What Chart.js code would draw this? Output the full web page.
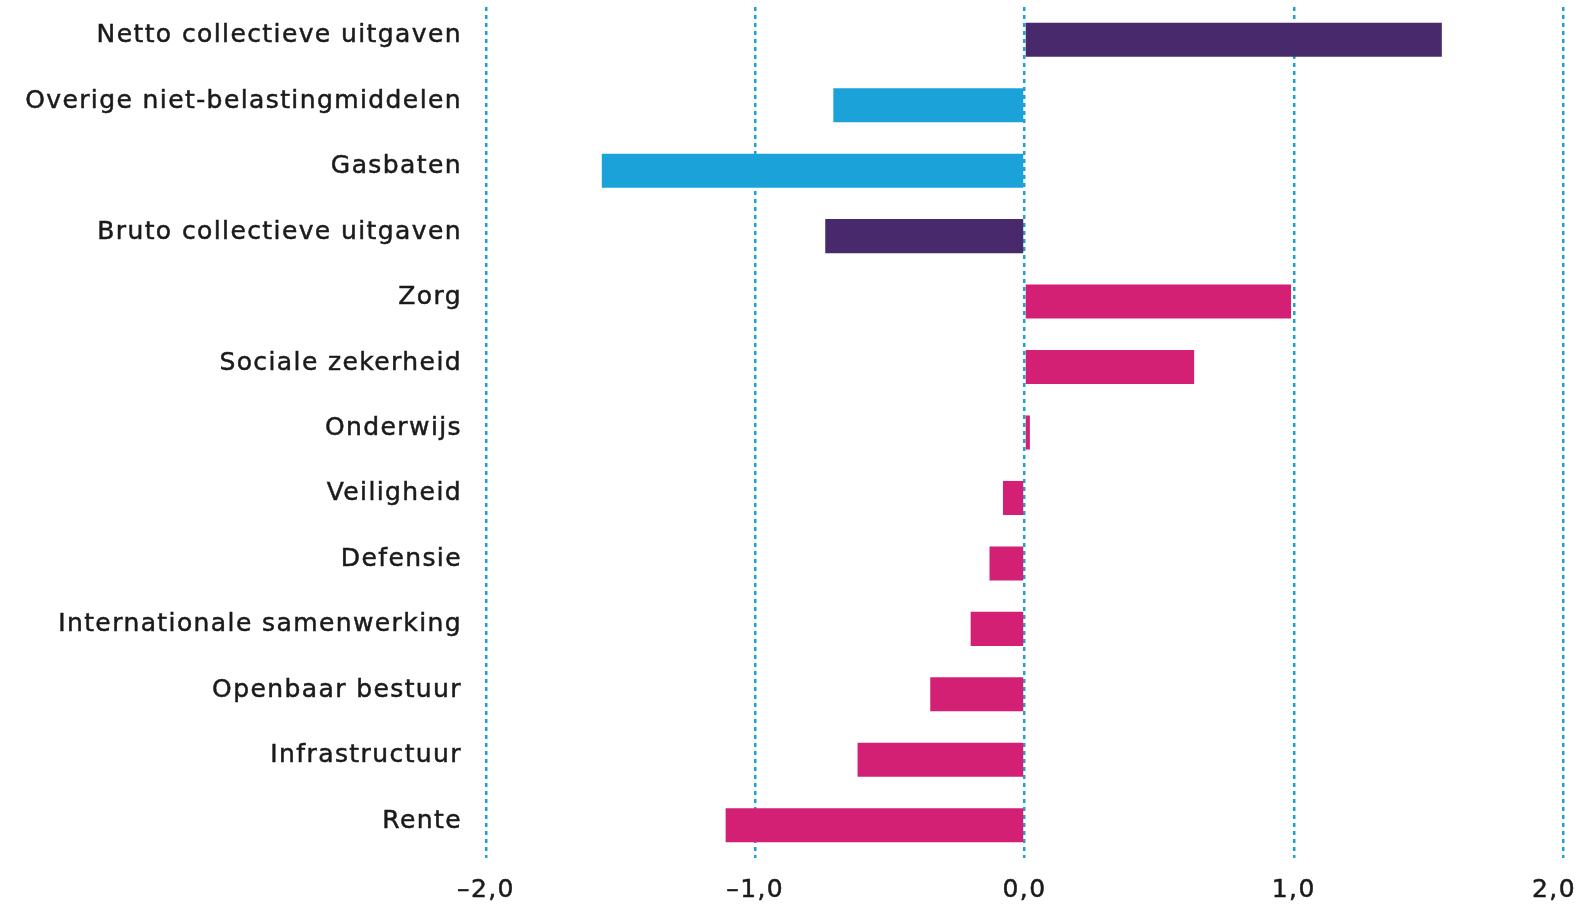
<!DOCTYPE html>
<html>
<head>
<meta charset="utf-8">
<script src="https://cdn.jsdelivr.net/npm/chart.js@4/dist/chart.umd.min.js"></script>
<style>
  html, body { margin: 0; padding: 0; background: #ffffff; }
  #wrap { width: 1582px; height: 905px; }
</style>
</head>
<body>
<div id="wrap"><canvas id="c" width="1582" height="905"></canvas></div>
<script>
const categories = [
  'Netto collectieve uitgaven',
  'Overige niet-belastingmiddelen',
  'Gasbaten',
  'Bruto collectieve uitgaven',
  'Zorg',
  'Sociale zekerheid',
  'Onderwijs',
  'Veiligheid',
  'Defensie',
  'Internationale samenwerking',
  'Openbaar bestuur',
  'Infrastructuur',
  'Rente'
];
const values = [1.55, -0.71, -1.57, -0.74, 0.99, 0.63, 0.02, -0.08, -0.13, -0.20, -0.35, -0.62, -1.11];
const groups = ['totaal', 'inkomsten', 'inkomsten', 'totaal', 'uitgaven', 'uitgaven', 'uitgaven', 'uitgaven', 'uitgaven', 'uitgaven', 'uitgaven', 'uitgaven', 'uitgaven'];
const tickValues = [-2, -1, 0, 1, 2];
const tickLabels = ['\u20132,0', '\u20131,0', '0,0', '1,0', '2,0'];

const groupColours = { totaal: '#48296b', inkomsten: '#1ba3d9', uitgaven: '#d31f74' };
const barColours = groups.map(g => groupColours[g]);

const spacing = '1.4px';
const spacingPlugin = {
  id: 'spacing',
  beforeLayout(chart) { chart.ctx.letterSpacing = spacing; },
  beforeDraw(chart) {
    chart.ctx.letterSpacing = spacing;
    const y = chart.scales.y;
    const yItems = y.getLabelItems();
    if (!yItems._shifted) {
      yItems.forEach(it => { it.options.translation[1] -= 4; });
      yItems._shifted = true;
    }
    const x = chart.scales.x;
    const xItems = x.getLabelItems();
    if (!xItems._shifted && xItems.length) {
      xItems[xItems.length - 1].options.translation[0] -= 9;
      xItems._shifted = true;
    }
  }
};

new Chart(document.getElementById('c'), {
  type: 'bar',
  data: {
    labels: categories,
    datasets: [{
      data: values,
      backgroundColor: barColours,
      borderWidth: 0,
      barPercentage: 0.52,
      categoryPercentage: 1.0
    }]
  },
  plugins: [spacingPlugin],
  options: {
    indexAxis: 'y',
    responsive: false,
    animation: false,
    devicePixelRatio: 1,
    layout: { padding: { left: 0, right: 19, top: 7, bottom: 0 } },
    plugins: { legend: { display: false }, tooltip: { enabled: false } },
    scales: {
      x: {
        min: -2, max: 2,
        afterBuildTicks(scale) { scale.ticks = tickValues.map(v => ({ value: v })); },
        afterFit(scale) { scale.height = 47; scale.paddingLeft = 0; scale.paddingRight = 0; },
        ticks: {
          padding: 17,
          color: '#1a1a1a',
          textStrokeColor: '#1a1a1a',
          textStrokeWidth: 0.5,
          font: { family: 'DejaVu Sans', size: 25 },
          maxRotation: 0,
          callback(value) { const i = tickValues.indexOf(value); return i >= 0 ? tickLabels[i] : ''; }
        },
        grid: {
          color: '#1ba3d9',
          lineWidth: 2.5,
          drawTicks: false
        },
        border: { display: false, dash: [4, 4] }
      },
      y: {
        afterFit(scale) { scale.width = 486; scale.paddingTop = 0; scale.paddingBottom = 0; },
        ticks: {
          padding: 24,
          color: '#1a1a1a',
          textStrokeColor: '#1a1a1a',
          textStrokeWidth: 0.5,
          font: { family: 'DejaVu Sans', size: 25 },
          autoSkip: false
        },
        grid: { display: false, drawTicks: false },
        border: { display: false }
      }
    }
  }
});
</script>
</body>
</html>
